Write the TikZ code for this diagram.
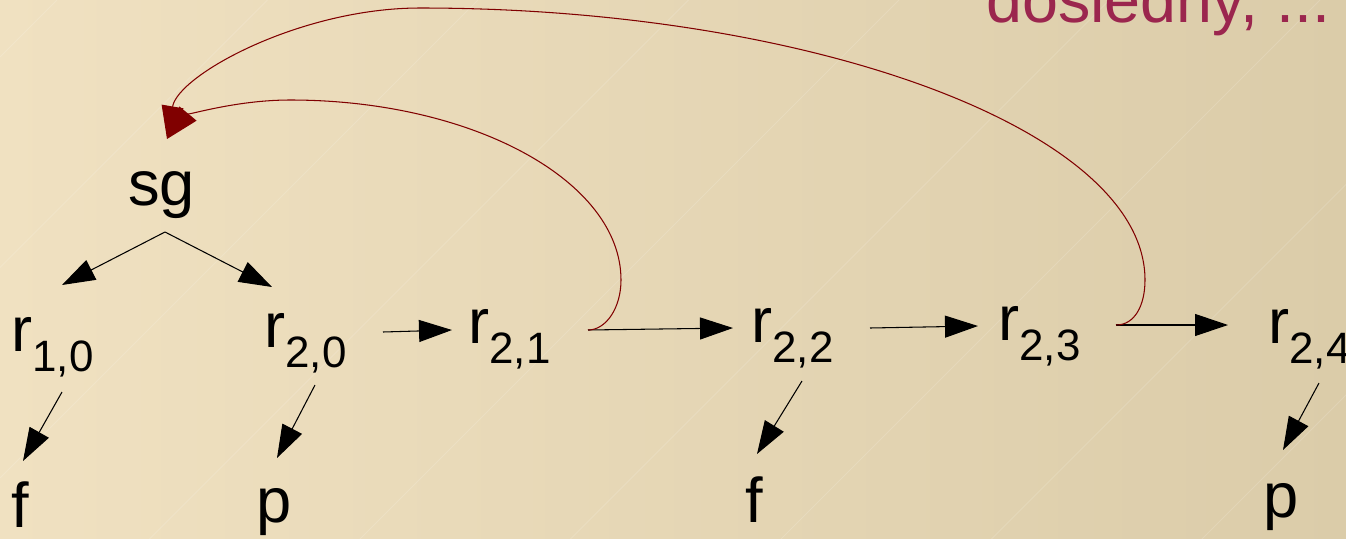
\documentclass[tikz,border=0pt]{standalone}
\usepackage{fontspec}
\setmainfont{Liberation Sans}
\usetikzlibrary{arrows.meta}
\definecolor{bgleft}{RGB}{240,225,193}
\definecolor{bgright}{RGB}{219,204,169}
\definecolor{backarc}{RGB}{128,0,0}
\definecolor{titlered}{RGB}{155,38,78}
\newcommand{\rsub}[1]{r\raisebox{-0.4cm}{\fontsize{25}{27}\selectfont #1}}

\begin{document}
\begin{tikzpicture}[x=0.02cm, y=-0.02cm, >={Triangle[length=0.66cm,width=0.44cm]},
		lbl/.style={inner sep=0pt, anchor=base west, font=\fontsize{36}{40}\selectfont},
		arr/.style={->, line width=0.6pt},
		back/.style={->, draw=backarc, line width=0.6pt}]
		\useasboundingbox (0,0) rectangle (1346,538);
		% background with faint diagonal streaks
		\shade[left color=bgleft, right color=bgright] (0,0) rectangle (1346,538);
		\begin{scope}
			\clip (0,0) rectangle (1346,538);
			\foreach \k in {0,...,8}
				\draw[white, opacity=0.15, line width=0.5pt] ({57+210.5*\k},0) -- (0,{57+210.5*\k});
		\end{scope}
		% nodes
		\node[lbl, titlered, font=\fontsize{36.8}{40}\selectfont] (more) at (986,22) {dosledny, ...};
		\node[lbl] (sg) at (128,205) {sg};
		\node[lbl] (r10) at (11,351) {\rsub{1,0}};
		\node[lbl] (r20) at (264,347) {\rsub{2,0}};
		\node[lbl] (r21) at (468,343) {\rsub{2,1}};
		\node[lbl] (r22) at (751,342) {\rsub{2,2}};
		\node[lbl] (r23) at (998,340) {\rsub{2,3}};
		\node[lbl] (r24) at (1268,343) {\rsub{2,4}};
		\node[lbl] (f1) at (11,527) {f};
		\node[lbl] (p1) at (256,522) {p};
		\node[lbl] (f2) at (745,522) {f};
		\node[lbl] (p2) at (1263,517) {p};
		% tree edges
		\draw[arr] ([shift={(37,27)}]sg.base west) -- ([shift={(51,-66)}]r10.base west);
		\draw[arr] ([shift={(37,27)}]sg.base west) -- ([shift={(8,-60)}]r20.base west);
		\draw[arr] ([shift={(51,41)}]r10.base west) -- ([shift={(12,-66)}]f1.base west);
		\draw[arr] ([shift={(51,38)}]r20.base west) -- ([shift={(21,-64)}]p1.base west);
		\draw[arr] ([shift={(51,39)}]r22.base west) -- ([shift={(12,-68)}]f2.base west);
		\draw[arr] ([shift={(51,40)}]r24.base west) -- ([shift={(20,-67)}]p2.base west);
		% chain
		\draw[arr] ([shift={(119,-15)}]r20.base west) -- ([shift={(-16,-13)}]r21.base west);
		\draw[arr] ([shift={(120,-13)}]r21.base west) -- ([shift={(-18,-14)}]r22.base west);
		\draw[arr] ([shift={(119,-14)}]r22.base west) -- ([shift={(-20,-14)}]r23.base west);
		\draw[arr] ([shift={(118,-15)}]r23.base west) -- ([shift={(-40,-18)}]r24.base west);
		% back arcs to sg
		\draw[back] ([shift={(120,-13)}]r21.base west) .. controls (606,330) and (621,308) .. (621,280)
			.. controls (621,181) and (473,100) .. (290,100)
			.. controls (235,100) and (186,116) .. ([shift={(39,-66)}]sg.base west);
		\draw[back] ([shift={(118,-15)}]r23.base west) .. controls (1135,325) and (1145,305) .. (1145,280)
			.. controls (1145,130) and (811,8) .. (420,8)
			.. controls (300,8) and (178,75) .. ([shift={(39,-66)}]sg.base west);
	\end{tikzpicture}
\end{document}
